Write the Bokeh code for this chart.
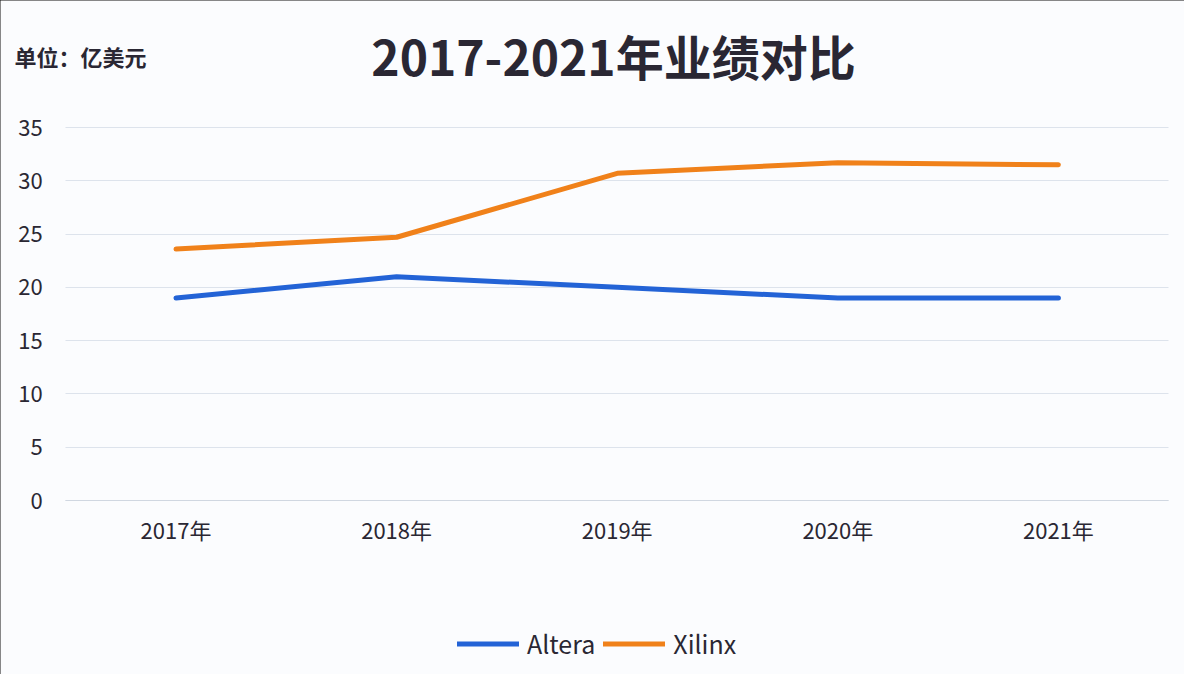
from bokeh.plotting import figure
from bokeh.models import Legend, LegendItem, FixedTicker, Label, Range1d
from bokeh.embed import file_html
from bokeh.resources import INLINE

years = ["2017年", "2018年", "2019年", "2020年", "2021年"]
altera = [19.0, 21.0, 20.0, 19.0, 19.0]
xilinx = [23.6, 24.7, 30.7, 31.7, 31.5]
y_ticks = [0, 5, 10, 15, 20, 25, 30, 35]

FONT = "Noto Sans CJK SC"
TXT = "#2a2733"
W, H = 1184, 674

xs = list(range(len(years)))

p = figure(width=W, height=H, x_range=Range1d(-0.7956, 4.5716), y_range=Range1d(-16.327, 46.917),
           output_backend="svg", toolbar_location=None,
           min_border=0, min_border_left=0, min_border_right=0, min_border_top=0, min_border_bottom=0)
p.background_fill_color = "#fbfcfe"
p.border_fill_color = "#fbfcfe"
p.outline_line_color = None
p.styles = {"outline": "3px solid #111", "outline-offset": "-3px"}

p.xgrid.grid_line_color = None
p.ygrid.grid_line_color = "#dde3ec"
p.ygrid.grid_line_width = 1.2
p.ygrid.cross_bounds = (-0.5, len(years) - 0.5)

p.yaxis.ticker = FixedTicker(ticks=y_ticks)
p.xaxis.ticker = FixedTicker(ticks=xs)
p.xaxis.major_label_overrides = {i: y for i, y in zip(xs, years)}
p.xaxis.fixed_location = 0
p.yaxis.fixed_location = -0.5
p.xaxis.bounds = (-0.5, len(years) - 0.5)

for ax in (p.xaxis, p.yaxis):
    ax.axis_line_color = None
    ax.major_tick_line_color = None
    ax.minor_tick_line_color = None
    ax.major_label_text_font = FONT
    ax.major_label_text_font_size = "22px"
    ax.major_label_text_color = TXT
p.xaxis.axis_line_color = "#d0d7e1"
p.xaxis.axis_line_width = 1.2
p.xaxis.major_tick_out = 0
p.xaxis.major_label_standoff = 12
p.yaxis.major_label_standoff = 17

r1 = p.line(xs, altera, line_color="#2363d6", line_width=5, line_cap="round")
r2 = p.line(xs, xilinx, line_color="#f0811a", line_width=5, line_cap="round")

legend = Legend(items=[LegendItem(label="Altera", renderers=[r1]),
                       LegendItem(label="Xilinx", renderers=[r2])],
                orientation="horizontal", location=(457, 13),
                glyph_width=62, glyph_height=25, label_height=25, label_standoff=8, spacing=8,
                label_text_font=FONT, label_text_font_size="25px", label_text_color=TXT,
                border_line_color=None, background_fill_alpha=0, margin=0, padding=0)
p.add_layout(legend, "center")

title = Label(x=613, y=H - 54, x_units="screen", y_units="screen", text="2017-2021年业绩对比",
              text_font=FONT, text_font_size="48px", text_font_style="bold", text_color=TXT,
              text_align="center", text_baseline="middle")
unit = Label(x=14, y=H - 55, x_units="screen", y_units="screen", text="单位：亿美元",
             text_font=FONT, text_font_size="22px", text_font_style="bold", text_color=TXT,
             text_align="left", text_baseline="middle")
p.add_layout(title)
p.add_layout(unit)

open("out.html", "w").write(file_html(p, INLINE))
